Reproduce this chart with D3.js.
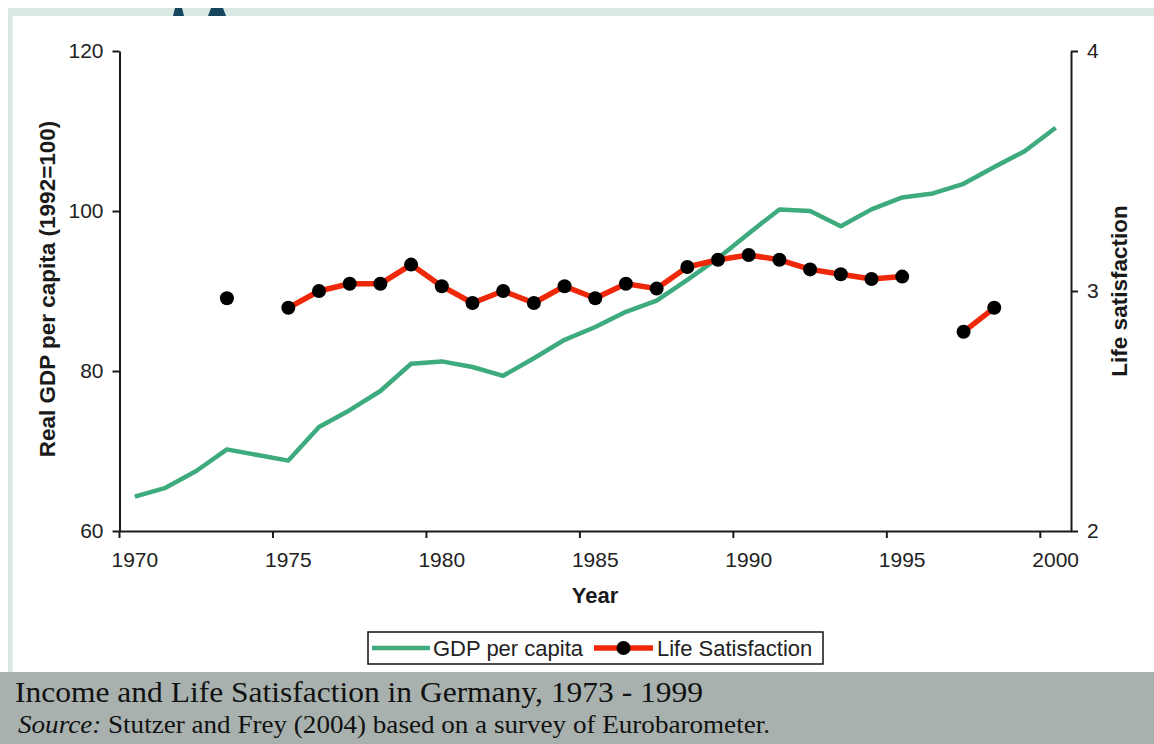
<!DOCTYPE html>
<html>
<head>
<meta charset="utf-8">
<script src="https://cdn.jsdelivr.net/npm/d3@7/dist/d3.min.js"></script>
<style>
  body { margin: 0; background: #fff; }
  svg { display: block; font-family: Arial, "Liberation Sans", sans-serif; }
</style>
</head>
<body>
<div id="chart"></div>
<script>
const years = [1970, 1971, 1972, 1973, 1974, 1975, 1976, 1977, 1978, 1979,
  1980, 1981, 1982, 1983, 1984, 1985, 1986, 1987, 1988, 1989,
  1990, 1991, 1992, 1993, 1994, 1995, 1996, 1997, 1998, 1999, 2000];

// real GDP per capita, 1992 = 100
const gdp = [64.3, 65.4, 67.5, 70.2, 69.5, 68.8, 73.0, 75.1, 77.5, 80.9,
  81.2, 80.5, 79.4, 81.6, 83.9, 85.5, 87.4, 88.8, 91.4, 94.1,
  97.2, 100.2, 100.0, 98.1, 100.2, 101.7, 102.2, 103.4, 105.5, 107.5, 110.4];

// life satisfaction (right axis), null = no survey
const lifeSat = [null, null, null, 2.97, null, 2.93, 3.00, 3.03, 3.03, 3.11,
  3.02, 2.95, 3.00, 2.95, 3.02, 2.97, 3.03, 3.01, 3.10, 3.13,
  3.15, 3.13, 3.09, 3.07, 3.05, 3.06, null, 2.83, 2.93, null, null];

const xTicks = [1970, 1975, 1980, 1985, 1990, 1995, 2000];
const leftTicks = [60, 80, 100, 120];
const rightTicks = [2, 3, 4];

const width = 1154, height = 744;
const ink = '#1a1a1a';
const green = '#3dab7e';
const red = '#f0280a';

const svg = d3.select('#chart').append('svg')
  .attr('width', width)
  .attr('height', height);

// slide frame
svg.append('rect').attr('x', 8).attr('y', 8).attr('width', width - 8).attr('height', 8).attr('fill', '#d9e8e3');
svg.append('rect').attr('x', 8).attr('y', 8).attr('width', 4.5).attr('height', 664).attr('fill', '#d9e8e3');
svg.append('path').attr('d', 'M175,8 L182,8 L184,16 L173,16 Z').attr('fill', '#17475f');
svg.append('path').attr('d', 'M211,8 L223,8 L226,16 L208,16 Z').attr('fill', '#17475f');

const x = d3.scaleBand()
  .domain(years)
  .range([119.5, 1071])
  .paddingInner(0)
  .paddingOuter(0);
const bw = x.bandwidth();
const cx = d => x(d) + bw / 2;

const yL = d3.scaleLinear().domain([60, 120]).range([531, 51]);
const yR = d3.scaleLinear().domain([2, 4]).range([531, 51]);

function styleAxis(g) {
  g.select('.domain').attr('stroke', ink).attr('stroke-width', 2);
  g.selectAll('.tick line').attr('stroke', ink).attr('stroke-width', 2);
  g.selectAll('.tick text').attr('fill', '#222').style('font-size', '21px');
}

// x axis: ticks between categories, labels at category centres
svg.append('g')
  .attr('transform', 'translate(0,531)')
  .call(d3.axisBottom(x).tickValues(xTicks).tickSize(7).tickSizeOuter(0).tickPadding(14))
  .call(styleAxis)
  .call(g => g.selectAll('.tick line').attr('x1', -bw / 2).attr('x2', -bw / 2));

// left axis
svg.append('g')
  .attr('transform', 'translate(119.5,0)')
  .call(d3.axisLeft(yL).tickValues(leftTicks).tickSize(7).tickSizeOuter(0).tickPadding(9))
  .call(styleAxis);

// right axis
svg.append('g')
  .attr('transform', 'translate(1071,0)')
  .call(d3.axisRight(yR).tickValues(rightTicks).tickFormat(d3.format('d'))
    .tickSize(7).tickSizeOuter(0).tickPadding(9))
  .call(styleAxis);

// GDP line
svg.append('path')
  .datum(years.map((yr, i) => ({ yr, v: gdp[i] })))
  .attr('fill', 'none')
  .attr('stroke', green)
  .attr('stroke-width', 4.5)
  .attr('stroke-linejoin', 'round')
  .attr('d', d3.line().x(d => cx(d.yr)).y(d => yL(d.v)));

// life satisfaction line with gaps
const lsData = years.map((yr, i) => ({ yr, v: lifeSat[i] }));
svg.append('path')
  .datum(lsData)
  .attr('fill', 'none')
  .attr('stroke', red)
  .attr('stroke-width', 5.5)
  .attr('stroke-linejoin', 'round')
  .attr('d', d3.line().defined(d => d.v != null).x(d => cx(d.yr)).y(d => yR(d.v)));

svg.append('g').selectAll('circle')
  .data(lsData.filter(d => d.v != null))
  .join('circle')
  .attr('cx', d => cx(d.yr))
  .attr('cy', d => yR(d.v))
  .attr('r', 7)
  .attr('fill', '#000');

// axis titles
svg.append('text')
  .attr('transform', 'translate(55,289) rotate(-90)')
  .attr('text-anchor', 'middle')
  .style('font-size', '22.5px').style('font-weight', 'bold').attr('fill', ink)
  .text('Real GDP per capita (1992=100)');

svg.append('text')
  .attr('transform', 'translate(1127,291) rotate(-90)')
  .attr('text-anchor', 'middle')
  .style('font-size', '22.5px').style('font-weight', 'bold').attr('fill', ink)
  .text('Life satisfaction');

svg.append('text')
  .attr('x', 595).attr('y', 603)
  .attr('text-anchor', 'middle')
  .style('font-size', '22px').style('font-weight', 'bold').attr('fill', ink)
  .text('Year');

// legend
const lg = svg.append('g').attr('transform', 'translate(368,632)');
lg.append('rect').attr('width', 455).attr('height', 32)
  .attr('fill', '#fff').attr('stroke', '#111').attr('stroke-width', 1.5);
lg.append('line').attr('x1', 4).attr('x2', 62).attr('y1', 16).attr('y2', 16)
  .attr('stroke', green).attr('stroke-width', 4.5);
lg.append('text').attr('x', 65).attr('y', 24).style('font-size', '22px').attr('fill', '#222')
  .text('GDP per capita');
lg.append('line').attr('x1', 226).attr('x2', 285).attr('y1', 16).attr('y2', 16)
  .attr('stroke', red).attr('stroke-width', 5.5);
lg.append('circle').attr('cx', 255.5).attr('cy', 16).attr('r', 7).attr('fill', '#000');
lg.append('text').attr('x', 289).attr('y', 24).style('font-size', '22px').attr('fill', '#222')
  .text('Life Satisfaction');

// caption band
svg.append('rect').attr('x', 0).attr('y', 672).attr('width', width).attr('height', height - 672)
  .attr('fill', '#a8b1ae');
svg.append('text')
  .attr('x', 15).attr('y', 702)
  .attr('textLength', 688).attr('lengthAdjust', 'spacingAndGlyphs')
  .style('font-family', '"Liberation Serif", "Times New Roman", serif')
  .style('font-size', '29.5px').attr('fill', '#111')
  .text('Income and Life Satisfaction in Germany, 1973 - 1999');
const src = svg.append('text')
  .attr('x', 18).attr('y', 733)
  .attr('textLength', 752).attr('lengthAdjust', 'spacingAndGlyphs')
  .style('font-family', '"Liberation Serif", "Times New Roman", serif')
  .style('font-size', '25px').attr('fill', '#111');
src.append('tspan').style('font-style', 'italic').text('Source:');
src.append('tspan').text(' Stutzer and Frey (2004) based on a survey of Eurobarometer.');
</script>
</body>
</html>
